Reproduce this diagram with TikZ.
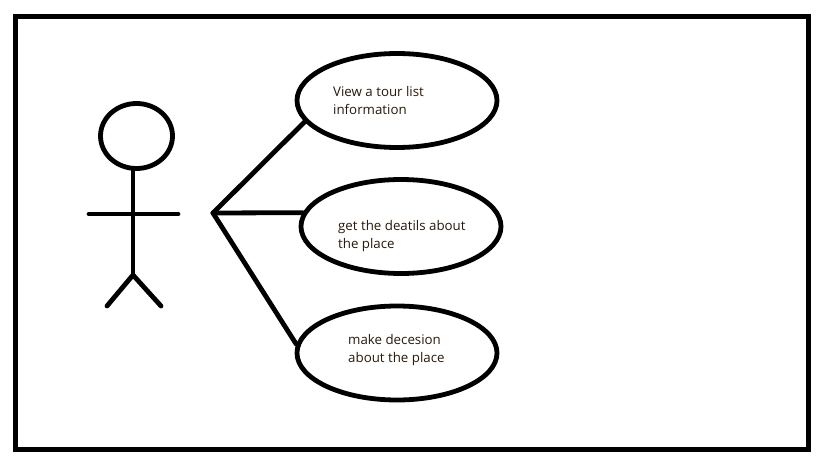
\documentclass[tikz,border=0pt]{standalone}
\usepackage{fontspec}
\setmainfont{Open Sans}
\usetikzlibrary{shapes.geometric}
\definecolor{lbl}{RGB}{40,25,10}
\tikzset{
  x=1pt,y=-1pt,
  ink/.style={line width=4.8pt,black,line cap=round},
  usecase/.style={ellipse,draw=black,line width=4.8pt,fill=white,inner sep=0pt,minimum width=200pt,minimum height=94pt},
  lbl/.style={font=\fontsize{13.3pt}{18pt}\selectfont,text=lbl,align=left,anchor=north west,inner sep=0pt},
}
\begin{document}
\begin{tikzpicture}
\useasboundingbox (0,0) rectangle (819,460);
\fill[white] (0,0) rectangle (819,460);
\draw[line width=5pt] (15,17) rectangle (808,449);
\node[ellipse,draw=black,line width=4.8pt,minimum width=72pt,minimum height=65pt,inner sep=0pt] (head) at (136.5,136) {};
\coordinate (hip) at (133,275);
\coordinate (armL) at (89,214);
\coordinate (armR) at (178,214);
\coordinate (footL) at (107,306);
\coordinate (footR) at (161,306);
\coordinate (hub) at (213,213);
\draw[ink] (head.south -| hip) -- (hip);
\draw[ink] (armL) -- (armR);
\draw[ink] (footL) -- (hip) -- (footR);
\node[usecase] (u1) at (397,100.5) {};
\node[usecase] (u2) at (401,226.5) {};
\node[usecase] (u3) at (397,353) {};
\draw[ink] (hub) -- (u1.193);
\draw[ink] (hub) -- (u2.172);
\draw[ink] (hub) -- (u3.175);
\node[lbl] (t1) at (333,86.5) {View a tour list\\information};
\node[lbl] (t2) at (338,220.5) {get the deatils about\\the place};
\node[lbl] (t3) at (348,334.5) {make decesion\\about the place};
\end{tikzpicture}
\end{document}
